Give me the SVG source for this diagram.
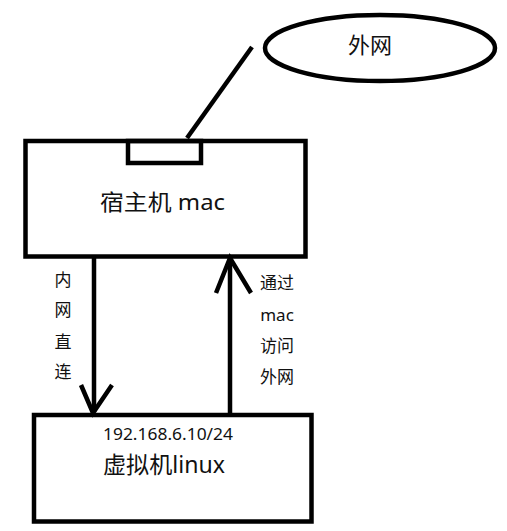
<svg xmlns="http://www.w3.org/2000/svg" width="507" height="531" viewBox="0 0 507 531">
<style>
.box{fill:none;stroke:#000;stroke-width:4.5}
.ln{fill:none;stroke:#000;stroke-width:4.5;stroke-linecap:butt}
.t{font-family:"Noto Sans","Noto Sans CJK SC",sans-serif;fill:#111}
</style>
<rect width="507" height="531" fill="#fff"/>
<g id="internet">
<ellipse cx="380" cy="48" rx="115" ry="33" class="box"/>
<text x="370" y="53" class="t" font-size="22" text-anchor="middle">外网</text>
</g>
<g id="host">
<rect x="25.5" y="141" width="280" height="115.5" class="box"/>
<rect x="128" y="141" width="73" height="22" class="box" stroke-width="3.5"/>
<text x="100" y="210" class="t" font-size="22" textLength="125" lengthAdjust="spacingAndGlyphs">宿主机 mac</text>
</g>
<g id="vm">
<rect x="34" y="415" width="277.5" height="106.5" class="box"/>
<text x="103" y="440" class="t" font-size="17" textLength="130" lengthAdjust="spacingAndGlyphs">192.168.6.10/24</text>
<text x="103" y="473" class="t" font-size="23" textLength="122" lengthAdjust="spacingAndGlyphs">虚拟机linux</text>
</g>
<g id="connectors">
<line x1="187" y1="138" x2="252" y2="47" class="ln"/>
<line x1="94" y1="258" x2="94" y2="412" class="ln"/>
<polyline points="81,385 93,413 112,385" class="ln"/>
<line x1="230" y1="413" x2="230" y2="259" class="ln"/>
<polyline points="216,293 230,258 251,293" class="ln"/>
</g>
<g id="labels" class="t" font-size="17" text-anchor="middle">
<text x="63" y="286">内</text>
<text x="63" y="316">网</text>
<text x="63" y="348">直</text>
<text x="63" y="378">连</text>
<text x="277" y="289">通过</text>
<text x="277" y="321">mac</text>
<text x="277" y="352">访问</text>
<text x="277" y="383">外网</text>
</g>
</svg>
